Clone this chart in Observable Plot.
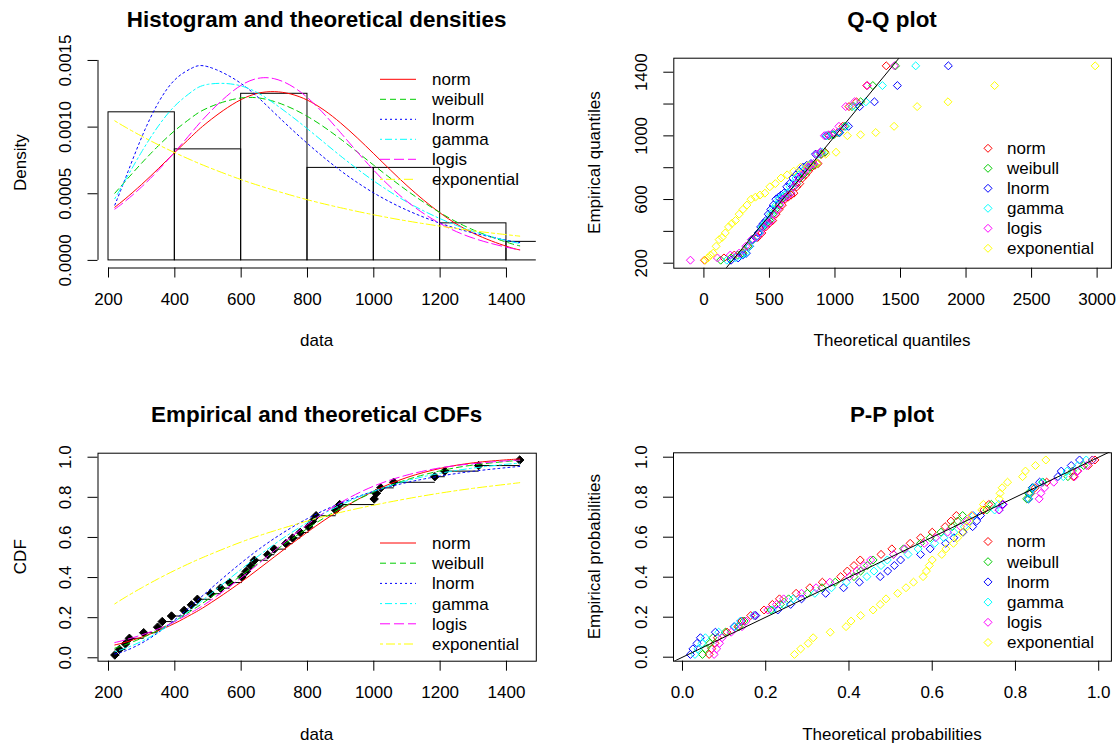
<!DOCTYPE html>
<html><head><meta charset="utf-8">
<script src="https://cdn.jsdelivr.net/npm/d3@7"></script>
<script src="https://cdn.jsdelivr.net/npm/@observablehq/plot@0.6"></script>
<style>
body{margin:0;background:#fff;}
#wrap{position:relative;width:1119px;height:744px;overflow:hidden;background:#fff;font-family:'Liberation Sans',Arial,sans-serif;}
</style></head><body><div id="wrap"></div>
<script>
// ---------- data ----------
const distNames = ["norm","weibull","lnorm","gamma","logis","exponential"];
const distColors = ["#FF0000","#00CD00","#0000FF","#00FFFF","#FF00FF","#FFFF00"];
const distDash = [null,"6,4","2,3","2,3,7,3","10,4","3,3,9,3"];

const sampleData = [219,233,251,263,306,348,362,390,428,450,468,508,538,565,602,615,628,640,680,700,735,755,778,803,815,826,885,897,1001,1007,1021,1060,1184,1214,1316,1440];
const plotPos = [0.0139,0.0417,0.0694,0.0972,0.1250,0.1528,0.1806,0.2083,0.2361,0.2639,0.2917,0.3194,0.3472,0.3750,0.4028,0.4306,0.4583,0.4861,0.5139,0.5417,0.5694,0.5972,0.6250,0.6528,0.6806,0.7083,0.7361,0.7639,0.7917,0.8194,0.8472,0.8750,0.9028,0.9306,0.9583,0.9861];

const histBreaks = [200,400,600,800,1000,1200,1400,1600];
const histDensity = [0.001111,0.000833,0.00125,0.000694,0.000694,0.000278,0.000139];

const curveX = [219,250,300,350,400,450,500,600,700,800,900,1000,1100,1200,1300,1400,1440];
// theoretical densities, in units of 1e-6
const densNorm    = [399,461,570,688,810,929,1039,1207,1266,1202,1031,800,561,356,204,106,79];
const densWeibull = [504,592,730,859,974,1071,1145,1219,1192,1080,910,714,524,358,229,137,109];
const densLnorm   = [415,610,924,1182,1355,1441,1453,1327,1107,877,673,506,377,279,206,152,134];
const densGamma   = [463,599,815,1007,1159,1264,1321,1309,1177,987,783,596,438,313,218,149,128];
const densLogis   = [385,443,552,676,814,958,1098,1314,1363,1221,958,676,443,277,167,99,80];
const densExp     = [1047,1001,932,868,808,752,700,606,526,455,395,342,296,257,222,193,182];
// theoretical CDFs, in units of 1e-3
const cdfNorm    = [64,77,103,135,172,216,265,378,503,627,739,831,899,944,972,987,991];
const cdfWeibull = [48,65,98,138,184,235,291,410,531,645,745,826,888,932,961,979,984];
const cdfLnorm   = [19,34,73,126,190,260,333,473,595,694,771,830,874,906,930,948,954];
const cdfGamma   = [30,47,82,128,182,243,308,441,566,674,762,831,883,920,946,965,970];
const cdfLogis   = [76,89,114,144,181,226,277,399,534,665,774,856,911,947,968,982,985];
const cdfExp     = [269,301,349,394,436,475,511,577,633,682,725,761,793,821,845,865,873];
// theoretical quantiles (Q-Q x values)
const qqNorm    = [5,153,232,289,336,375,410,442,472,499,525,550,574,598,620,643,665,687,709,731,753,776,798,822,846,871,897,924,954,986,1021,1060,1107,1164,1243,1391];
const qqWeibull = [128,206,257,299,335,367,397,424,451,476,501,525,548,571,594,617,640,663,686,709,733,757,782,807,834,861,890,921,954,991,1031,1076,1130,1196,1289,1462];
const qqLnorm   = [207,261,296,324,349,372,393,414,433,453,472,491,510,529,549,569,589,610,632,654,678,702,728,756,785,817,851,889,932,980,1036,1103,1188,1301,1476,1865];
const qqGamma   = [175,241,284,318,347,374,399,422,445,466,488,509,530,550,571,592,614,635,657,680,703,727,753,779,807,836,868,902,939,981,1028,1083,1150,1236,1362,1616];
const qqLogis   = [-103,103,201,268,320,362,399,431,461,488,513,537,560,582,603,624,645,665,685,705,726,747,768,790,813,837,862,889,919,951,988,1030,1082,1149,1247,1453];
const qqExp     = [10,30,50,71,93,116,139,163,188,214,241,269,298,328,360,393,428,465,503,545,588,635,685,738,797,860,930,1008,1095,1195,1311,1451,1627,1862,2218,2985];
// theoretical probabilities (P-P x values), in units of 1e-3
const ppNorm    = [64,70,78,84,107,133,143,164,196,216,233,273,306,336,380,396,412,427,477,503,547,572,600,631,645,658,724,736,832,837,847,875,939,949,975,991];
const ppWeibull = [48,55,66,73,103,136,148,174,212,235,255,300,335,367,412,428,444,458,507,531,572,595,621,648,661,673,731,742,827,831,841,866,926,937,964,984];
const ppLnorm   = [19,25,35,43,79,124,140,176,229,260,286,344,387,425,475,493,509,524,572,595,632,652,674,697,707,716,761,769,831,834,841,858,902,910,934,954];
const ppGamma   = [30,37,47,55,87,126,140,171,216,243,266,318,358,394,443,460,477,492,542,566,606,628,652,677,689,699,750,760,832,835,843,864,915,924,950,970];
const ppLogis   = [76,82,89,95,117,143,153,173,205,226,243,286,321,354,401,419,436,452,507,534,581,608,637,668,683,696,760,771,857,861,870,892,942,950,971,985];
const ppExp     = [269,284,302,314,355,393,405,428,458,475,489,517,537,555,578,586,593,600,623,633,651,661,672,683,689,694,719,723,761,763,768,781,817,824,848,873];

// tick values
const dataTicks = [200,400,600,800,1000,1200,1400];
const densTicks = [0,0.0005,0.001,0.0015];
const qqXTicks = [0,500,1000,1500,2000,2500,3000];
const qqYTicks = [200,400,600,800,1000,1200,1400];
const qqYLabelled = [200,600,1000,1400];
const probTicks = [0,0.2,0.4,0.6,0.8,1];

// ---------- layout ----------
const dataDomain = [168.3, 1490];
const densDomain = [-0.000057, 0.001517];
const qqXDomain = [-229.7, 3109];
const qqYDomain = [168.6, 1488];
const cdfDomain = [-0.017, 1.02];
const ppXDomain = [-0.0216, 1.0305];
const ppYDomain = [-0.02, 1.022];

const densList = [densNorm,densWeibull,densLnorm,densGamma,densLogis,densExp];
const cdfList = [cdfNorm,cdfWeibull,cdfLnorm,cdfGamma,cdfLogis,cdfExp];
const qqList = [qqNorm,qqWeibull,qqLnorm,qqGamma,qqLogis,qqExp];
const ppList = [ppNorm,ppWeibull,ppLnorm,ppGamma,ppLogis,ppExp];

const wrap = document.getElementById("wrap");
const FONT = "'Liberation Sans', Arial, sans-serif";
const style = {fontFamily: FONT, fontSize: "17px", color: "black", background: "transparent", overflow: "visible"};
const DOT_R = 3.6;

function place(el, left, top) {
  el.style.position = "absolute";
  el.style.left = left + "px";
  el.style.top = top + "px";
  wrap.appendChild(el);
}
const axX = (ticks, fmt) => Plot.axisX({ticks, tickSize: 10, tickPadding: 15, tickFormat: fmt, label: null});
const axY = (ticks, fmt) => Plot.axisY({ticks, tickSize: 10, tickPadding: 17, tickRotate: -90, tickFormat: fmt, label: null});

// Panel 1: histogram + densities
const histTable = histDensity.map((d, i) => ({x1: histBreaks[i], x2: histBreaks[i + 1], d}));
const p1 = Plot.plot({
  width: 560, height: 372, marginLeft: 97.5, marginRight: 24.2, marginTop: 57.7, marginBottom: 104.5,
  style,
  x: {domain: dataDomain}, y: {domain: densDomain},
  marks: [
    Plot.rectY(histTable, {x1: "x1", x2: "x2", y: "d", fill: "none", stroke: "black", strokeWidth: 1, clip: true}),
    ...densList.map((arr, k) => Plot.line(curveX.map((x, i) => ({x, y: arr[i] / 1e6})),
      {x: "x", y: "y", stroke: distColors[k], strokeWidth: 1, strokeDasharray: distDash[k], curve: "natural", clip: true})),
    Plot.ruleY([densDomain[0]], {x1: dataTicks[0], x2: dataTicks[dataTicks.length - 1], stroke: "black"}),
    Plot.ruleX([dataDomain[0]], {y1: densTicks[0], y2: densTicks[densTicks.length - 1], stroke: "black"}),
    axX(dataTicks, d3.format("d")),
    axY(densTicks, d3.format(".4f"))
  ]
});
place(p1, 0, 0);

// Panel 2: Q-Q plot
const p2 = Plot.plot({
  width: 559, height: 372, marginLeft: 113.3, marginRight: 8.1, marginTop: 57.7, marginBottom: 104.3,
  style,
  x: {domain: qqXDomain}, y: {domain: qqYDomain},
  marks: [
    ...qqList.map((arr, k) => Plot.dot(arr.map((q, i) => ({q, e: sampleData[i]})),
      {x: "q", y: "e", symbol: "diamond2", r: DOT_R, stroke: distColors[k], strokeWidth: 1, fill: "none", clip: true})),
    Plot.link([qqYDomain], {x1: d => d[0], y1: d => d[0], x2: d => d[1], y2: d => d[1], stroke: "black", strokeWidth: 1, clip: true}),
    Plot.frame({stroke: "black"}),
    axX(qqXTicks, d3.format("d")),
    axY(qqYTicks, d => qqYLabelled.includes(d) ? String(d) : "")
  ]
});
place(p2, 560, 0);

// Panel 3: CDFs
const ecdfTable = sampleData.map((x, i) => ({x, p: plotPos[i]}));
const stepTable = sampleData.slice(0, -1).map((x, i) => ({x1: x, x2: sampleData[i + 1], p: plotPos[i]}));
const p3 = Plot.plot({
  width: 560, height: 372, marginLeft: 97.5, marginRight: 24.2, marginTop: 80.7, marginBottom: 83.3,
  style,
  x: {domain: dataDomain}, y: {domain: cdfDomain},
  marks: [
    Plot.link(stepTable, {x1: "x1", x2: "x2", y1: "p", y2: "p", stroke: "black", strokeWidth: 1}),
    Plot.dot(ecdfTable, {x: "x", y: "p", symbol: "diamond2", r: 3.8, fill: "black", stroke: "black", strokeWidth: 1}),
    ...cdfList.map((arr, k) => Plot.line(curveX.map((x, i) => ({x, y: arr[i] / 1000})),
      {x: "x", y: "y", stroke: distColors[k], strokeWidth: 1, strokeDasharray: distDash[k], curve: "natural"})),
    Plot.frame({stroke: "black"}),
    axX(dataTicks, d3.format("d")),
    axY(probTicks, d3.format(".1f"))
  ]
});
place(p3, 0, 372);

// Panel 4: P-P plot
const p4 = Plot.plot({
  width: 559, height: 372, marginLeft: 113, marginRight: 8.1, marginTop: 80.3, marginBottom: 83.3,
  style,
  x: {domain: ppXDomain}, y: {domain: ppYDomain},
  marks: [
    ...ppList.map((arr, k) => Plot.dot(arr.map((t, i) => ({t: t / 1000, e: plotPos[i]})),
      {x: "t", y: "e", symbol: "diamond2", r: DOT_R, stroke: distColors[k], strokeWidth: 1, fill: "none"})),
    Plot.link([ppXDomain], {x1: d => d[0], y1: d => d[0], x2: d => d[1], y2: d => d[1], stroke: "black", strokeWidth: 1, clip: true}),
    Plot.frame({stroke: "black"}),
    axX(probTicks, d3.format(".1f")),
    axY(probTicks, d3.format(".1f"))
  ]
});
place(p4, 560, 372);

// ---------- titles, axis labels, legends ----------
const ov = d3.create("svg").attr("width", 1119).attr("height", 744)
  .style("position", "absolute").style("left", "0px").style("top", "0px")
  .attr("font-family", FONT);
function txt(s, x, y, {size = 17, weight = "normal", rotate = 0, anchor = "middle"} = {}) {
  ov.append("text").attr("transform", `translate(${x},${y}) rotate(${rotate})`)
    .attr("text-anchor", anchor).attr("dy", "0.35em")
    .attr("font-size", size).attr("font-weight", weight).attr("fill", "black").text(s);
}
txt("Histogram and theoretical densities", 316.6, 19.3, {size: 22.4, weight: "bold"});
txt("Q-Q plot", 892, 19.3, {size: 22.4, weight: "bold"});
txt("Empirical and theoretical CDFs", 316.6, 413.7, {size: 22.4, weight: "bold"});
txt("P-P plot", 892, 413.7, {size: 22.4, weight: "bold"});
txt("data", 316.6, 340);
txt("Theoretical quantiles", 892, 340);
txt("data", 316.6, 733.7);
txt("Theoretical probabilities", 892, 733.7);
txt("Density", 20, 162.6, {rotate: -90});
txt("Empirical quantiles", 594, 162.6, {rotate: -90});
txt("CDF", 20, 556.7, {rotate: -90});
txt("Empirical probabilities", 594, 556.7, {rotate: -90});

function lineLegend(x0, y0, step) {
  distNames.forEach((name, k) => {
    const y = y0 + k * step;
    ov.append("line").attr("x1", x0).attr("x2", x0 + 36).attr("y1", y).attr("y2", y)
      .attr("stroke", distColors[k]).attr("stroke-width", 1)
      .attr("stroke-dasharray", distDash[k] || null);
    txt(name, x0 + 52, y, {anchor: "start"});
  });
}
function dotLegend(x0, y0, step) {
  distNames.forEach((name, k) => {
    const y = y0 + k * step, h = 4;
    ov.append("path").attr("d", `M${x0},${y - h}L${x0 + h},${y}L${x0},${y + h}L${x0 - h},${y}Z`)
      .attr("fill", "none").attr("stroke", distColors[k]).attr("stroke-width", 1);
    txt(name, x0 + 19, y, {anchor: "start"});
  });
}
lineLegend(380, 79.3, 20);
lineLegend(380, 543, 20.2);
dotLegend(988, 148.3, 20);
dotLegend(988, 541.5, 20.2);
wrap.appendChild(ov.node());
</script></body></html>
